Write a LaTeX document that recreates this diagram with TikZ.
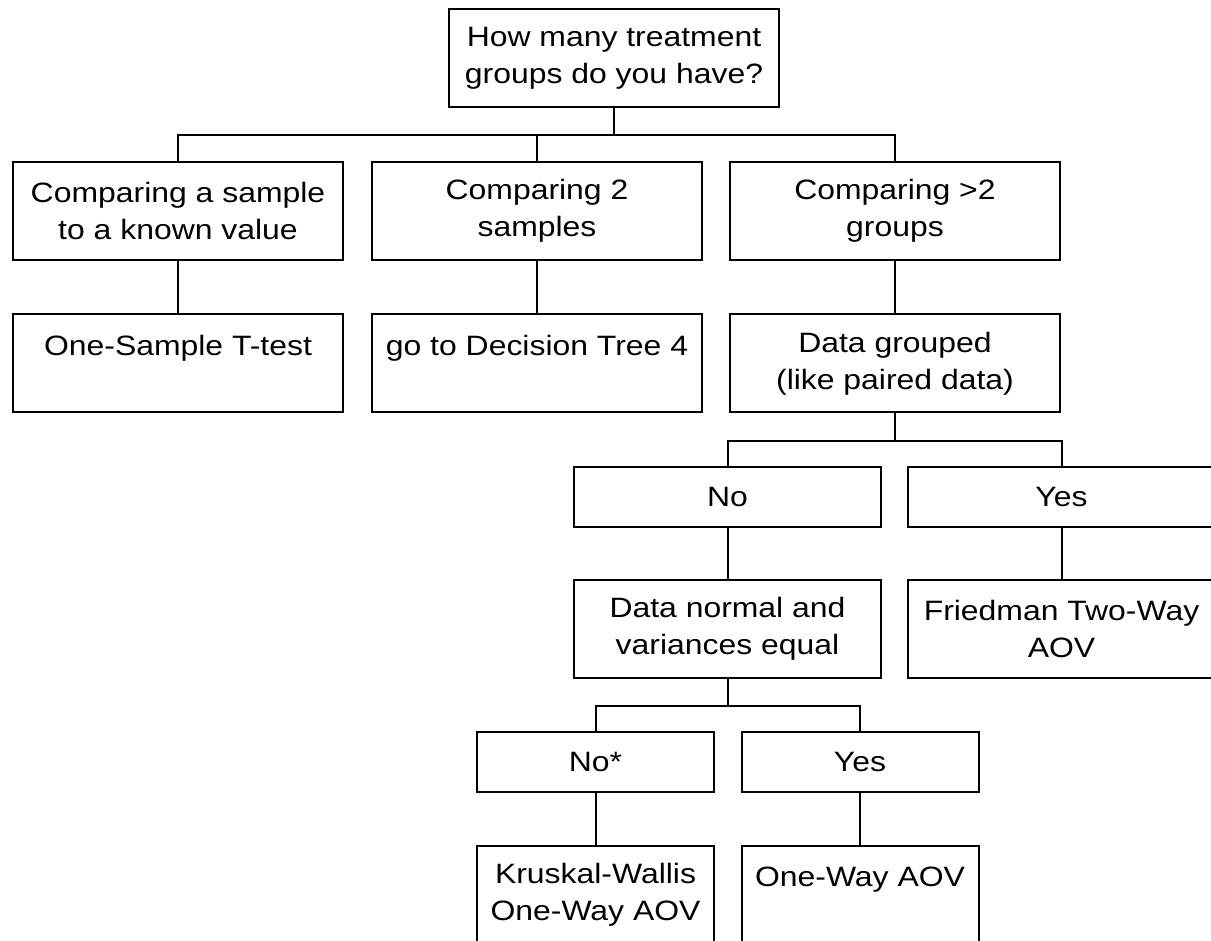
\documentclass[tikz,border=0pt]{standalone}
\usepackage{fontspec}
\setmainfont{Liberation Sans}[FakeStretch=1.14]

\tikzset{
    box/.style={draw, line width=2pt, inner sep=0pt, align=center,
        minimum height=98pt, font=\fontsize{28}{37}\selectfont},
    wide/.style={box, minimum width=330pt},
    mid/.style={box, minimum width=307pt},
    slim/.style={box, minimum width=237pt},
    short/.style={minimum height=60pt},
    elbow/.style={to path={-- ++(0,27) -| (\tikztotarget)}},
}

\begin{document}
\begin{tikzpicture}[x=1pt, y=-1pt, line width=2pt]
        \useasboundingbox (0,0) rectangle (1211,941);

        \node[wide] (groups) at (614,58.5) {How many treatment\\groups do you have?};
        \node[wide] (known) at (178,211) {Comparing a sample\\to a known value};
        \node[wide] (twosmp) at (537,211) {Comparing 2\\samples};
        \node[wide] (moregrp) at (895,211) {Comparing >2\\groups};
        \node[wide] (ttest) at (178,363.5) {One-Sample T-test\\\mbox{}};
        \node[wide] (tree4) at (537,363.5) {go to Decision Tree 4\\\mbox{}};
        \node[wide] (paired) at (895,363.5) {Data grouped\\(like paired data)};
        \node[mid, short] (pairNo) at (727.5,497) {No};
        \node[mid, short] (pairYes) at (1061.5,497) {Yes};
        \node[mid] (normal) at (727.5,629) {Data normal and\\variances equal};
        \node[mid] (friedman) at (1061.5,629) {Friedman Two-Way\\AOV};
        \node[slim, short] (normNo) at (595.5,762) {No*};
        \node[slim, short] (normYes) at (860,762) {Yes};
        \node[slim] (kruskal) at (595.5,895) {Kruskal-Wallis\\One-Way AOV};
        \node[slim] (oneway) at (860,895) {One-Way AOV\\\mbox{}};

        \draw (groups.south) to[elbow] (known.north);
        \draw (groups.south) to[elbow] (twosmp.north);
        \draw (groups.south) to[elbow] (moregrp.north);
        \draw (known) -- (ttest);
        \draw (twosmp) -- (tree4);
        \draw (moregrp) -- (paired);
        \draw (paired.south) to[elbow] (pairNo.north);
        \draw (paired.south) to[elbow] (pairYes.north);
        \draw (pairNo) -- (normal);
        \draw (pairYes) -- (friedman);
        \draw (normal.south) to[elbow] (normNo.north);
        \draw (normal.south) to[elbow] (normYes.north);
        \draw (normNo) -- (kruskal);
        \draw (normYes) -- (oneway);
    \end{tikzpicture}
\end{document}
